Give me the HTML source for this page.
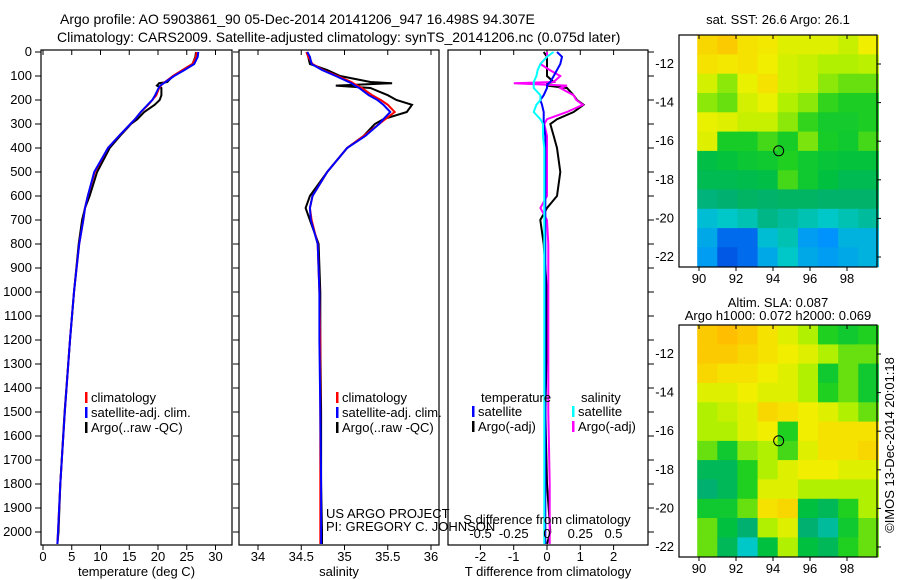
<!DOCTYPE html>
<html><head><meta charset="utf-8">
<style>
html,body{margin:0;padding:0;background:#fff;}
svg{display:block;font-family:"Liberation Sans",sans-serif;}
text{font-size:13px;fill:#000;}
text.ttl{font-size:14px;}
</style></head>
<body>
<svg id="fig" width="900" height="580" viewBox="0 0 900 580">
<text class="ttl" x="60" y="24">Argo profile: AO 5903861_90 05-Dec-2014 20141206_947 16.498S 94.307E</text>
<text class="ttl" x="57" y="42">Climatology: CARS2009. Satellite-adjusted climatology: synTS_20141206.nc (0.075d later)</text>
</svg>
<script>
// ---------- data ----------
const depthTicks = [0,100,200,300,400,500,600,700,800,900,1000,1100,1200,1300,1400,1500,1600,1700,1800,1900,2000];
const tempTicks = [0,5,10,15,20,25,30];
const salTicks = [34,34.5,35,35.5,36];
const tdiffTicks = [-2,-1,0,1,2];
const sdiffTicks = [-0.5,-0.25,0,0.25,0.5];
const sdiffTickLabels = ["-0.5","-0.25","0","0.25","0.5"];

const profDepth = [0,20,50,75,100,125,130,140,150,180,200,220,250,280,300,350,400,500,600,650,700,800,1000,1200,1500,1800,2000,2050];
const tempClim  = [26.7,26.6,26.0,24.3,22.6,21.2,20.9,20.5,20.2,19.7,19.0,18.3,17.0,16.0,15.2,13.2,11.3,9.0,7.8,7.3,7.0,6.3,5.4,4.7,3.8,3.0,2.6,2.5];
const tempSat   = [27.0,26.9,26.3,24.6,22.8,21.3,21.0,20.4,20.1,19.5,19.0,18.2,17.0,16.0,15.2,13.2,11.3,8.9,7.8,7.3,7.0,6.3,5.4,4.7,3.8,3.0,2.6,2.5];
const tempArgo  = [26.6,26.5,26.0,24.3,22.6,21.6,20.2,19.8,20.6,20.6,20.3,19.4,17.6,16.4,15.3,13.4,11.6,9.4,8.1,7.3,6.8,6.2,5.4,4.7,3.75,3.0,2.7,2.5];
const salClim   = [34.56,34.58,34.63,34.75,34.92,35.08,35.1,35.15,35.2,35.32,35.42,35.5,35.58,35.47,35.4,35.22,35.03,34.8,34.63,34.6,34.62,34.69,34.71,34.72,34.72,34.72,34.72,34.72];
const salSat    = [34.57,34.6,34.62,34.74,34.9,35.05,35.08,35.12,35.17,35.28,35.38,35.45,35.53,35.45,35.4,35.24,35.03,34.8,34.63,34.6,34.61,34.69,34.71,34.71,34.72,34.73,34.73,34.73];
const salArgo   = [34.57,34.58,34.6,34.8,34.95,35.3,35.55,34.9,35.3,35.5,35.6,35.78,35.72,35.45,35.35,35.22,35.03,34.8,34.6,34.55,34.6,34.7,34.72,34.72,34.73,34.73,34.74,34.74];
const tdiffSat  = [0.3,0.45,0.4,0.3,0.2,0.1,0.05,0.0,0.0,-0.1,-0.2,-0.15,-0.1,-0.1,-0.1,-0.05,-0.05,-0.05,-0.05,-0.05,-0.05,-0.05,-0.05,-0.05,-0.05,-0.05,-0.05,-0.05];
const tdiffArgo = [-0.1,0.0,0.0,0.0,0.0,0.2,0.0,0.0,0.6,0.8,0.9,1.1,0.8,0.3,0.1,0.2,0.3,0.4,0.3,0.0,-0.2,-0.1,0.0,0.0,-0.05,0.0,0.1,0.0];
const sdiffSat  = [0.05,0.0,-0.05,-0.07,-0.08,-0.1,-0.1,-0.1,-0.1,-0.05,-0.05,-0.08,-0.1,-0.05,-0.03,-0.03,-0.02,-0.02,-0.02,-0.02,-0.02,-0.02,-0.02,-0.02,-0.02,-0.02,-0.02,-0.02];
const sdiffArgo = [0.0,0.0,-0.05,0.02,0.1,0.05,-0.25,0.15,0.1,0.2,0.22,0.27,0.15,0.0,-0.02,0.0,0.0,0.0,0.0,-0.05,0.0,0.01,0.01,0.01,0.01,0.02,0.02,0.02];

const mapLonTicks = [90,92,94,96,98];
const mapLatTicks = [-12,-14,-16,-18,-20,-22];
const mapLonLabels = ["90","92","94","96","98"];
const mapLatLabels = ["-12","-14","-16","-18","-20","-22"];
const sstGrid = [
 [27.1,27.2,27.0,26.95,26.8,26.8,26.8,26.7,26.9],
 [27.0,26.95,27.0,26.9,26.75,26.7,26.6,26.6,26.65],
 [26.75,26.5,26.85,27.0,26.75,26.7,26.5,26.4,26.4],
 [26.5,26.4,26.75,26.85,26.6,26.5,26.25,26.15,26.15],
 [26.85,26.8,26.7,26.7,26.5,26.25,26.05,26.05,26.15],
 [26.8,26.1,26.1,26.3,26.1,26.45,26.1,26.0,26.3],
 [25.75,25.85,25.95,26.0,26.2,26.0,25.9,25.85,25.85],
 [25.65,25.65,25.7,25.75,26.3,26.0,25.8,25.65,25.65],
 [25.35,25.4,25.5,25.45,25.5,25.5,25.45,25.45,25.45],
 [24.9,25.0,25.1,25.3,25.2,25.1,25.0,25.1,25.2],
 [24.7,24.3,24.3,24.9,25.1,24.6,24.5,24.8,24.8],
 [24.6,24.2,24.3,24.7,25.0,24.7,24.6,24.7,24.8]];
const slaGrid = [
 [0.16,0.165,0.16,0.15,0.14,0.13,0.11,0.10,0.11],
 [0.16,0.16,0.155,0.15,0.145,0.14,0.13,0.12,0.12],
 [0.155,0.15,0.15,0.145,0.14,0.13,0.10,0.12,0.10],
 [0.14,0.14,0.145,0.14,0.14,0.13,0.11,0.12,0.10],
 [0.13,0.135,0.14,0.155,0.15,0.145,0.14,0.13,0.12],
 [0.13,0.13,0.14,0.145,0.11,0.145,0.15,0.15,0.15],
 [0.12,0.10,0.125,0.13,0.115,0.14,0.15,0.15,0.155],
 [0.08,0.08,0.11,0.13,0.14,0.145,0.145,0.14,0.14],
 [0.07,0.08,0.11,0.14,0.14,0.13,0.13,0.13,0.13],
 [0.10,0.10,0.12,0.15,0.155,0.09,0.08,0.11,0.13],
 [0.12,0.09,0.07,0.13,0.14,0.07,0.06,0.10,0.12],
 [0.12,0.08,0.05,0.09,0.13,0.09,0.08,0.11,0.12]];
const argoPos = [94.307,-16.498];

// ---------- helpers ----------
const NS="http://www.w3.org/2000/svg";
const svg=document.getElementById('fig');
function mk(tag,attrs,parent){const e=document.createElementNS(NS,tag);for(const k in attrs)e.setAttribute(k,attrs[k]);(parent||svg).appendChild(e);return e;}
function txt(x,y,s,anchor,parent){const t=mk('text',{x:x,y:y,'text-anchor':anchor||'start'},parent);t.textContent=s;return t;}

const Y0=50, Y1=545;
const yDepth=d=>52+d*0.24;

function panel(name,x0,x1,xs,ticks,labels,title,leftLabels,rightTicks){
  const g=mk('g',{});
  
  
  const r=mk('rect',{x:x0,y:Y0,width:x1-x0,height:Y1-Y0,fill:'none',stroke:'#000','stroke-width':1.2},g);
  
  
  ticks.forEach((v,i)=>{
    const x=xs(v);
    mk('line',{x1:x,x2:x,y1:Y1,y2:Y1+5,stroke:'#000'},g);
    mk('line',{x1:x,x2:x,y1:Y0,y2:Y0+5,stroke:'#000'},g);
    const t=txt(x,561,labels[i],'middle',g);
    
    
  });
  depthTicks.forEach(d=>{
    const y=yDepth(d);
    if(rightTicks){mk('line',{x1:x1,x2:x1+6,y1:y,y2:y,stroke:'#000'},g);}
    else {mk('line',{x1:x0-6,x2:x0,y1:y,y2:y,stroke:'#000'},g);}
    if(leftLabels){const t=txt(x0-9,y+4,String(d),'end',g);
      
      }
  });
  const tt=txt((x0+x1)/2,576,title,'middle',g);
  
  
  return g;
}
function series(name,g,xs,xv,color,w){
  const pts=profDepth.map((d,i)=>xs(xv[i]).toFixed(1)+','+yDepth(d).toFixed(1)).join(' ');
  const p=mk('polyline',{points:pts,fill:'none',stroke:color,'stroke-width':w||2},g);
  
  
}
function legend(g,x,y,items){
  items.forEach((it,i)=>{
    const yy=y+i*15;
    mk('rect',{x:x,y:yy-10,width:2.5,height:11,fill:it[1]},g);
    const t=txt(x+6,yy,it[0],'start',g);
    
    
  });
}

// Temperature panel
const xT=v=>43+v*5.75;
const gT=panel('temperature-panel',41,232,xT,tempTicks,tempTicks.map(String),'temperature (deg C)',true,false);
series('temp-argo-line',gT,xT,tempArgo,'#000');
series('temp-clim-line',gT,xT,tempClim,'#f00');
series('temp-sat-line',gT,xT,tempSat,'#00f');
legend(gT,85,402,[['climatology','#f00'],['satellite-adj. clim.','#00f'],['Argo(..raw -QC)','#000']]);

// Salinity panel
const xS=v=>258+(v-34)*86.5;
const gS=panel('salinity-panel',239,439,xS,salTicks,salTicks.map(String),'salinity',false,false);
series('sal-argo-line',gS,xS,salArgo,'#000');
series('sal-clim-line',gS,xS,salClim,'#f00');
series('sal-sat-line',gS,xS,salSat,'#00f');
legend(gS,336,402,[['climatology','#f00'],['satellite-adj. clim.','#00f'],['Argo(..raw -QC)','#000']]);
const u1=txt(326,518,'US ARGO PROJECT','start',gS);


const u2=txt(326,531,'PI: GREGORY C. JOHNSON','start',gS);



// Difference panel
const xD=v=>547+v*33.3;
const xSD=v=>547+v*133;
const gD=panel('difference-panel',448,648,xD,tdiffTicks,tdiffTicks.map(String),'T difference from climatology',false,true);
series('tdiff-argo-line',gD,xD,tdiffArgo,'#000');
series('sdiff-argo-line',gD,xSD,sdiffArgo,'#f0f');
series('tdiff-sat-line',gD,xD,tdiffSat,'#00f');
series('sdiff-sat-line',gD,xSD,sdiffSat,'#0ff');
const sl=txt(547,524,'S difference from climatology','middle',gD);


sdiffTicks.forEach((v,i)=>{const t=txt(xSD(v),538,sdiffTickLabels[i],'middle',gD);
  
  });
const lt=txt(481,402,'temperature','start',gD);


const ls=txt(581,402,'salinity','start',gD);


legend(gD,472,416,[['satellite','#00f'],['Argo(-adj)','#000']]);
legend(gD,572,416,[['satellite','#0ff'],['Argo(-adj)','#f0f']]);

// ---------- maps ----------
const cmStops=[[0,[0,48,208]],[0.12,[0,144,255]],[0.25,[0,200,200]],[0.35,[0,176,112]],[0.45,[0,192,64]],[0.55,[32,208,32]],[0.65,[176,240,0]],[0.72,[240,240,0]],[0.82,[255,192,0]],[0.92,[255,144,0]],[1,[192,0,0]]];
function cmap(t){t=Math.max(0,Math.min(1,t));for(let i=1;i<cmStops.length;i++){if(t<=cmStops[i][0]){const a=cmStops[i-1],b=cmStops[i];const f=(t-a[0])/(b[0]-a[0]);const c=a[1].map((v,k)=>Math.round(v+(b[1][k]-v)*f));return `rgb(${c})`;}}return 'rgb(192,0,0)';}

function drawMap(name,top,bot,grid,vmin,vmax,title1,title2){
  const g=mk('g',{});
  
  
  const L=679,R=877;
  const xL=lon=>699+(lon-90)*18.5;
  const yL=lat=>(top+29)+(-12-lat)*((bot-10-(top+29))/10);
  const lon0=89.9,lon1=99.7,lat0=-10.5,lat1=-22.5;
  const nr=grid.length,nc=grid[0].length;
  const dLon=(lon1-lon0)/nc,dLat=(lat0-lat1)/nr;
  grid.forEach((row,r)=>row.forEach((v,c)=>{
    const x=xL(lon0+c*dLon),x2=xL(lon0+(c+1)*dLon);
    const y=Math.max(top,yL(lat0-r*dLat)),y2=Math.min(bot,yL(lat0-(r+1)*dLat));
    const cell=mk('rect',{x:x.toFixed(1),y:y.toFixed(1),width:(x2-x+0.5).toFixed(1),height:(y2-y+0.5).toFixed(1),fill:cmap((v-vmin)/(vmax-vmin))},g);
    
    
  }));
  const fr=mk('rect',{x:L,y:top,width:R-L,height:bot-top,fill:'none',stroke:'#000','stroke-width':1.2},g);
  
  
  mapLonTicks.forEach((lon,i)=>{const x=xL(lon);
    mk('line',{x1:x,x2:x,y1:top,y2:top+4,stroke:'#000'},g);
    mk('line',{x1:x,x2:x,y1:bot,y2:bot+4,stroke:'#000'},g);
    const t=txt(x,bot+16,mapLonLabels[i],'middle',g);
    
    });
  mapLatTicks.forEach((lat,i)=>{const y=yL(lat);
    mk('line',{x1:R,x2:R+4,y1:y,y2:y,stroke:'#000'},g);
    const t=txt(L-5,y+4,mapLatLabels[i],'end',g);
    
    });
  const c=mk('circle',{cx:xL(argoPos[0]),cy:yL(argoPos[1]),r:5,fill:'none',stroke:'#000','stroke-width':1},g);
  
  
  const t1=txt(778,title2?top-18:top-11,title1,'middle',g);
  
  
  if(title2){const t2=txt(778,top-5,title2,'middle',g);
    
    }
}
drawMap('sst-map',35,267,sstGrid,24,28,'sat. SST: 26.6 Argo: 26.1');
drawMap('sla-map',325,557,slaGrid,0,0.2,'Altim. SLA: 0.087','Argo h1000: 0.072 h2000: 0.069');

const imos=txt(0,0,'©IMOS 13-Dec-2014 20:01:18','middle');
imos.setAttribute('transform','translate(894,445) rotate(-90)');


</script>
</body></html>
